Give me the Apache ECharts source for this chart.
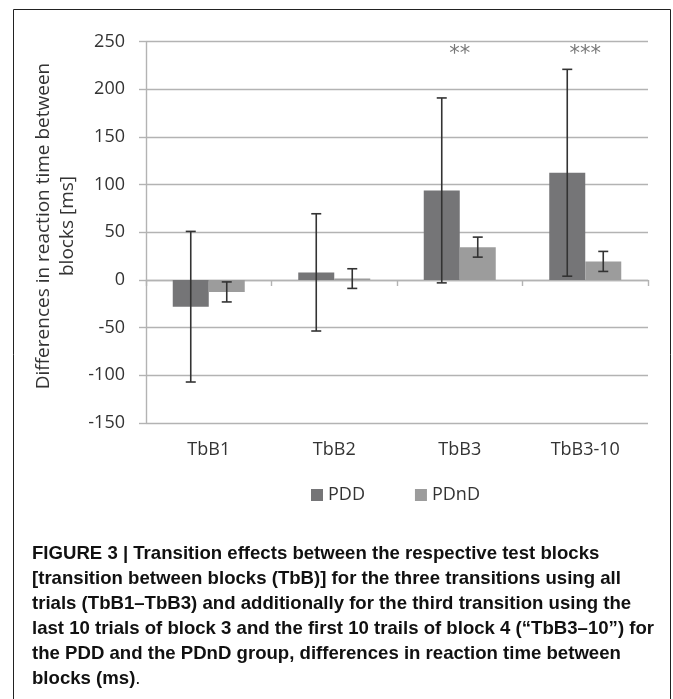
<!DOCTYPE html>
<html>
<head>
<meta charset="utf-8">
<script src="https://cdn.jsdelivr.net/npm/echarts@6/dist/echarts.min.js"></script>
<style>
html,body{margin:0;padding:0;background:#fff;}
#chart{width:673px;height:699px;}
</style>
</head>
<body>
<div id="chart"></div>
<script>
var categories = ['TbB1', 'TbB2', 'TbB3', 'TbB3-10'];
var seriesNames = ['PDD', 'PDnD'];
var pddMean = [-28, 8, 94, 112.5];
var pddErr = [79, 61.5, 97, 108.5];
var pdndMean = [-12.5, 1.5, 34.5, 19.5];
var pdndErr = [10.5, 10.3, 10.5, 10.5];
var sigLabels = ['', '', '**', '***'];
var yTicks = { min: -150, max: 250, interval: 50 };

var captionLines = [
  'FIGURE 3 | Transition effects between the respective test blocks',
  '[transition between blocks (TbB)] for the three transitions using all',
  'trials (TbB1\u2013TbB3) and additionally for the third transition using the',
  'last 10 trials of block 3 and the first 10 trails of block 4 (\u201cTbB3\u201310\u201d) for',
  'the PDD and the PDnD group, differences in reaction time between',
  'blocks (ms)'
];

var chart = echarts.init(document.getElementById('chart'), null, { renderer: 'canvas' });

var labelFont = "'Open Sans', sans-serif";
var captionFont = "'Liberation Sans Narrow', 'Liberation Sans', Arial, sans-serif";
var gridColor = '#b3b3b3';
var textColor = '#333';
var colors = ['#757577', '#9c9c9c'];
var barW = 36;

function errData(mean, err) {
  return mean.map(function (m, i) { return [i, m - err[i], m + err[i]]; });
}

function errRender(offset) {
  return function (params, api) {
    var i = api.value(0);
    var lo = api.coord([i, api.value(1)]);
    var hi = api.coord([i, api.value(2)]);
    var x = lo[0] + offset;
    var cap = 5;
    var style = { stroke: '#333', lineWidth: 1.6 };
    return {
      type: 'group',
      children: [
        { type: 'line', shape: { x1: x, y1: hi[1], x2: x, y2: lo[1] }, style: style },
        { type: 'line', shape: { x1: x - cap, y1: hi[1], x2: x + cap, y2: hi[1] }, style: style },
        { type: 'line', shape: { x1: x - cap, y1: lo[1], x2: x + cap, y2: lo[1] }, style: style }
      ]
    };
  };
}

var captionText = captionLines.map(function (l) { return '{b|' + l + '}'; }).join('\n') + '{n|.}';

var option = {
  animation: false,
  backgroundColor: '#fff',
  grid: { left: 146, right: 25, top: 41.7, bottom: 276, containLabel: false },
  legend: {
    data: seriesNames,
    left: 306,
    top: 481,
    itemWidth: 12,
    itemHeight: 12,
    itemGap: 50,
    icon: 'rect',
    textStyle: { fontFamily: labelFont, fontSize: 18, color: textColor }
  },
  xAxis: [
    {
      type: 'category',
      data: categories,
      position: 'top',
      axisLine: { show: true, onZero: true, lineStyle: { color: gridColor, width: 1.4 } },
      axisTick: { show: true, inside: true, length: 6, lineStyle: { color: gridColor, width: 1.4 } },
      axisLabel: { show: false },
      splitLine: { show: false }
    },
    {
      type: 'category',
      data: categories,
      position: 'bottom',
      axisLine: { show: false, onZero: false },
      axisTick: { show: false },
      axisLabel: { show: true, margin: 18, fontFamily: labelFont, fontSize: 18, color: textColor },
      splitLine: { show: false }
    }
  ],
  yAxis: {
    type: 'value',
    min: yTicks.min,
    max: yTicks.max,
    interval: yTicks.interval,
    axisLine: { show: true, onZero: false, lineStyle: { color: gridColor, width: 1.4 } },
    axisTick: { show: true, length: 7, lineStyle: { color: gridColor, width: 1.4 } },
    axisLabel: { margin: 21, fontFamily: labelFont, fontSize: 18, color: textColor },
    splitLine: { show: true, lineStyle: { color: gridColor, width: 1.4 } }
  },
  series: [
    {
      name: seriesNames[0], type: 'bar', xAxisIndex: 0, data: pddMean,
      barWidth: barW, barGap: '0%', itemStyle: { color: colors[0] }
    },
    {
      name: seriesNames[1], type: 'bar', xAxisIndex: 0, data: pdndMean,
      barWidth: barW, barGap: '0%', itemStyle: { color: colors[1] }
    },
    {
      type: 'custom', xAxisIndex: 0, data: errData(pddMean, pddErr),
      renderItem: errRender(-barW / 2), z: 5, silent: true
    },
    {
      type: 'custom', xAxisIndex: 0, data: errData(pdndMean, pdndErr),
      renderItem: errRender(barW / 2), z: 5, silent: true
    },
    {
      type: 'scatter', xAxisIndex: 0, symbolSize: 0, silent: true,
      data: sigLabels.map(function (s, i) { return { value: [i, 237], label: { formatter: s } }; }),
      label: { show: true, position: 'inside', fontFamily: "'DejaVu Sans', sans-serif", fontSize: 21, color: '#555' }
    }
  ],
  graphic: [
    {
      type: 'rect', shape: { x: 13.5, y: 9.5, width: 657, height: 720 },
      style: { fill: 'none', stroke: '#222', lineWidth: 1 }, silent: true
    },
    {
      type: 'text', x: 56, y: 226, rotation: Math.PI / 2,
      style: {
        text: 'Differences in reaction time between\nblocks [ms]',
        textAlign: 'center', textVerticalAlign: 'middle',
        font: "19px 'Open Sans', sans-serif", fill: textColor, lineHeight: 24
      }
    },
    {
      type: 'text', x: 32, y: 541,
      style: {
        text: captionText,
        fill: '#111', textVerticalAlign: 'top',
        rich: {
          b: { fontFamily: captionFont, fontWeight: 'bold', fontSize: 18.6, lineHeight: 25, fill: '#111' },
          n: { fontFamily: captionFont, fontWeight: 'normal', fontSize: 18.6, lineHeight: 25, fill: '#111' }
        }
      }
    }
  ]
};
chart.setOption(option);
</script>
</body>
</html>
